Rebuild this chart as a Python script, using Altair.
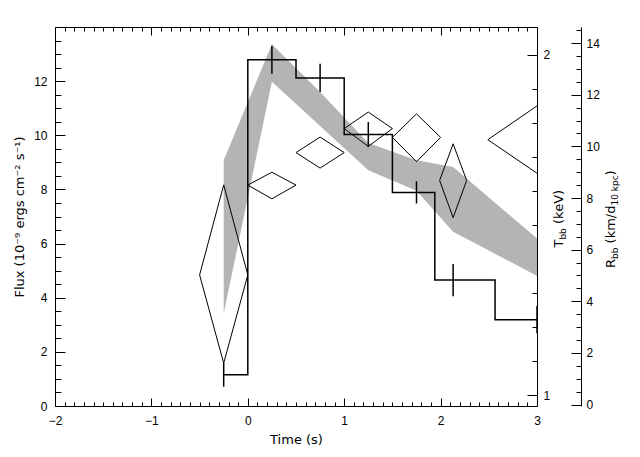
import altair as alt
import pandas as pd

# ---------------- data ----------------
time_s = [-0.25, 0.25, 0.75, 1.25, 1.75, 2.13, 3.0]
flux = [1.15, 12.79, 12.12, 10.03, 7.89, 4.65, 3.19]
flux_err = [0.44, 0.52, 0.52, 0.46, 0.41, 0.60, 0.50]

kT_lo = [1.24, 1.92, 1.79, 1.66, 1.60, 1.48, 1.35]
kT_hi = [1.69, 2.03, 1.89, 1.74, 1.69, 1.67, 1.46]

r_time = [-0.25, 0.25, 0.75, 1.25, 1.75, 2.13, 3.0]
r_halfwidth = [0.25, 0.25, 0.25, 0.25, 0.25, 0.14, 0.51]
r_val = [5.02, 8.50, 9.76, 10.69, 10.35, 8.68, 10.26]
r_lo = [1.60, 7.97, 9.16, 10.00, 9.41, 7.24, 8.96]
r_hi = [8.51, 9.00, 10.36, 11.33, 11.26, 10.10, 11.57]

x_major = [-2, -1, 0, 1, 2, 3]
x_minor = [round(-2 + 0.1 * i, 1) for i in range(51) if i % 10 != 0]
flux_major = [0, 2, 4, 6, 8, 10, 12]
flux_minor = [v / 2 for v in range(0, 28) if v % 4 != 0]
kT_major = [1, 2]
kT_minor = [round(1 + 0.1 * i, 1) for i in range(1, 10)]
r_major = [0, 2, 4, 6, 8, 10, 12, 14]
r_minor = [v / 2 for v in range(0, 30) if v % 4 != 0]

x_title = "Time (s)"
flux_title = "Flux (10⁻⁹ ergs cm⁻² s⁻¹)"
t_title_parts = ["T", "bb", "(keV)"]
r_title_parts = ["R", "bb", "(km/d", "10 kpc", ")"]

X_DOMAIN = [-2, 3]
FLUX_DOMAIN = [0, 14]
KT_DOMAIN = [0.968, 2.081]
R_DOMAIN = [-0.058, 14.626]

W, H = 482, 379
R_OFFSET = 44

df = pd.DataFrame({"time": time_s, "flux": flux, "err": flux_err,
                   "kT_lo": kT_lo, "kT_hi": kT_hi})

rows = []
for i, (t, dt, v, lo, hi) in enumerate(zip(r_time, r_halfwidth, r_val, r_lo, r_hi)):
    pts = [(t - dt, v), (t, hi), (t + dt, v), (t, lo), (t - dt, v)]
    for k, (px, py) in enumerate(pts):
        rows.append({"id": i, "k": k, "t": px, "r": py})
dia = pd.DataFrame(rows)

xs = alt.Scale(domain=X_DOMAIN, nice=False, zero=False)
fs = alt.Scale(domain=FLUX_DOMAIN, nice=False, zero=False)
ts = alt.Scale(domain=KT_DOMAIN, nice=False, zero=False)
rs = alt.Scale(domain=R_DOMAIN, nice=False, zero=False)


def tick_axis(orient, offset, values, size):
    return alt.Axis(orient=orient, offset=offset, values=values, labels=False,
                    tickSize=size, domain=False, title=None, grid=False)


# gray band (T_bb)
band = alt.Chart(df).mark_area(color="#b4b4b4", opacity=1).encode(
    x=alt.X("time:Q", scale=xs, axis=tick_axis("top", -H, x_minor, 4)),
    y=alt.Y("kT_lo:Q", scale=ts,
            axis=alt.Axis(orient="right", values=kT_major, format="~g", ticks=False,
                          tickSize=0, labelPadding=6, title=None, domain=True,
                          labelFlush=False)),
    y2="kT_hi:Q",
)

# flux histogram
step = alt.Chart(df).mark_line(interpolate="step", color="black", strokeWidth=1.5).encode(
    x=alt.X("time:Q", scale=xs,
            axis=alt.Axis(orient="bottom", values=x_major, ticks=False, tickSize=0,
                          labelPadding=9, title=x_title, titleY=33,
                          titleBaseline="middle", domain=True, labelFlush=False)),
    y=alt.Y("flux:Q", scale=fs,
            axis=alt.Axis(orient="left", values=flux_major, ticks=False, tickSize=0,
                          labelPadding=8, title=flux_title, titleX=-36, titleY=H / 2,
                          titleAngle=270, titleBaseline="middle", titleAlign="center",
                          domain=True, labelFlush=False)),
)

errs = alt.Chart(df).transform_calculate(
    lo="datum.flux - datum.err", hi="datum.flux + datum.err"
).mark_rule(color="black", strokeWidth=1.5).encode(
    x=alt.X("time:Q", scale=xs, axis=tick_axis("top", -H, x_major, 8)),
    y=alt.Y("lo:Q", scale=fs, axis=tick_axis("right", -W, flux_major, 10)),
    y2="hi:Q",
)

# diamonds (R_bb)
diamonds = alt.Chart(dia).mark_line(color="black", strokeWidth=1, clip=True).encode(
    x=alt.X("t:Q", scale=xs,
            axis=alt.Axis(orient="bottom", offset=-H, values=x_major, labels=False,
                          tickSize=8, domain=True, title=None)),
    y=alt.Y("r:Q", scale=rs,
            axis=alt.Axis(orient="right", offset=R_OFFSET, values=r_major, ticks=False,
                          tickSize=0, labelPadding=5, title=None, domain=True,
                          labelFlush=False)),
    detail="id:N",
    order="k:Q",
)


def dummy(field, scale, yaxis, xaxis=None):
    return alt.Chart(df).mark_point(opacity=0).encode(
        x=alt.X("time:Q", scale=xs, axis=xaxis),
        y=alt.Y(field, scale=scale, axis=yaxis),
    )


d_flux = dummy("flux:Q", fs, tick_axis("right", -W, flux_minor, 6),
               tick_axis("bottom", -H, x_minor, 4))
d_t1 = dummy("kT_lo:Q", ts, tick_axis("left", -W, kT_major, 10))
d_t2 = dummy("kT_lo:Q", ts, tick_axis("left", -W, kT_minor, 5))
d_r1 = dummy("kT_lo:Q", rs, tick_axis("left", -(W + R_OFFSET), r_major, 10))
d_r2 = dummy("kT_lo:Q", rs, tick_axis("left", -(W + R_OFFSET), r_minor, 5))


def title_piece(text, x, y, size):
    return alt.Chart(pd.DataFrame({"s": [text]})).mark_text(
        angle=270, align="left", baseline="alphabetic", font="DejaVu Sans",
        fontSize=size, color="black"
    ).encode(x=alt.value(x), y=alt.value(y), text="s:N")


t_x = W + 25.5
r_x = W + 77.5
texts = [
    title_piece(t_title_parts[0], t_x, 220.5, 13),
    title_piece(t_title_parts[1], t_x + 3, 212.6, 9),
    title_piece(t_title_parts[2], t_x, 197.0, 13),
    title_piece(r_title_parts[0], r_x, 241, 13),
    title_piece(r_title_parts[1], r_x + 3, 232, 9),
    title_piece(r_title_parts[2], r_x, 216.4, 13),
    title_piece(r_title_parts[3], r_x + 3, 178.6, 9),
    title_piece(r_title_parts[4], r_x, 148.4, 13),
]

chart = alt.layer(
    band, step, errs, diamonds, d_flux, d_t1, d_t2, d_r1, d_r2, *texts
).resolve_scale(
    x="independent", y="independent"
).properties(
    width=W, height=H,
    autosize=alt.AutoSizeParams(type="none"),
    padding={"left": 47, "top": 19, "right": 94, "bottom": 42},
    background="white",
).configure_axis(
    grid=False, domainColor="black", tickColor="black", labelColor="black",
    titleColor="black", labelFont="Liberation Sans", labelFontSize=12,
    titleFont="DejaVu Sans", titleFontSize=13, titleFontWeight="normal",
    domainWidth=1, tickWidth=1,
).configure_view(stroke=None)

chart.save("out.html", embed_options={"renderer": "svg", "actions": False})
